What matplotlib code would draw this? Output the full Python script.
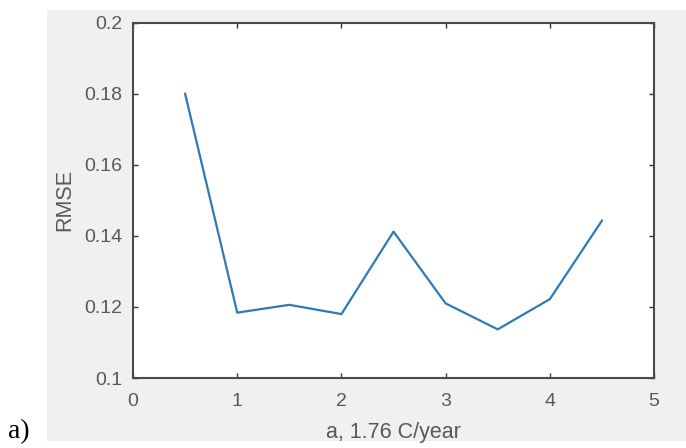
import matplotlib.pyplot as plt
from matplotlib.patches import Rectangle

# RMSE against the parameter a
a_vals = [0.5, 1.0, 1.5, 2.0, 2.5, 3.0, 3.5, 4.0, 4.5]
rmse = [0.1800, 0.1184, 0.1206, 0.1180, 0.1412, 0.1210, 0.1137, 0.1222, 0.1443]

x_ticks = [0, 1, 2, 3, 4, 5]
y_ticks = [0.1, 0.12, 0.14, 0.16, 0.18, 0.2]
y_ticklabels = ['0.1', '0.12', '0.14', '0.16', '0.18', '0.2']

plt.rcParams['font.family'] = ['Liberation Sans', 'DejaVu Sans']

fig = plt.figure(figsize=(6.86, 4.48), dpi=100, facecolor='white')

# grey figure window behind the axes
fig.patches.append(Rectangle((0.0685, 0.0156), 0.9315, 0.9621,
                             transform=fig.transFigure, facecolor='#f0f0f0',
                             edgecolor='none', zorder=-10))

ax = fig.add_axes([0.1939, 0.1562, 0.7595, 0.7931], zorder=5)
ax.set_facecolor('white')
ax.plot(a_vals, rmse, color='#2f7ab5', lw=1.6)

ax.set_xlim(0, 5)
ax.set_ylim(0.1, 0.2)
ax.set_xticks(x_ticks)
ax.set_yticks(y_ticks)
ax.set_yticklabels(y_ticklabels)

ax.tick_params(direction='in', length=3.5, width=1.0, color='#333333',
               labelcolor='#595959', labelsize=14, top=True, right=True,
               labeltop=False, labelright=False)
ax.tick_params(axis='x', pad=11)
ax.tick_params(axis='y', pad=8)
for sp in ax.spines.values():
    sp.set_color('#4a4a4a')
    sp.set_linewidth(1.5)

ax.set_xlabel('a, 1.76 C/year', fontsize=15.5, color='#595959', labelpad=8.5)
ax.set_ylabel('RMSE', fontsize=15.5, color='#595959', labelpad=6.5)

fig.text(0.012, 0.022, 'a)', fontsize=20, family='Liberation Serif', color='black')

fig.savefig('out.png', dpi=100, facecolor='white')
